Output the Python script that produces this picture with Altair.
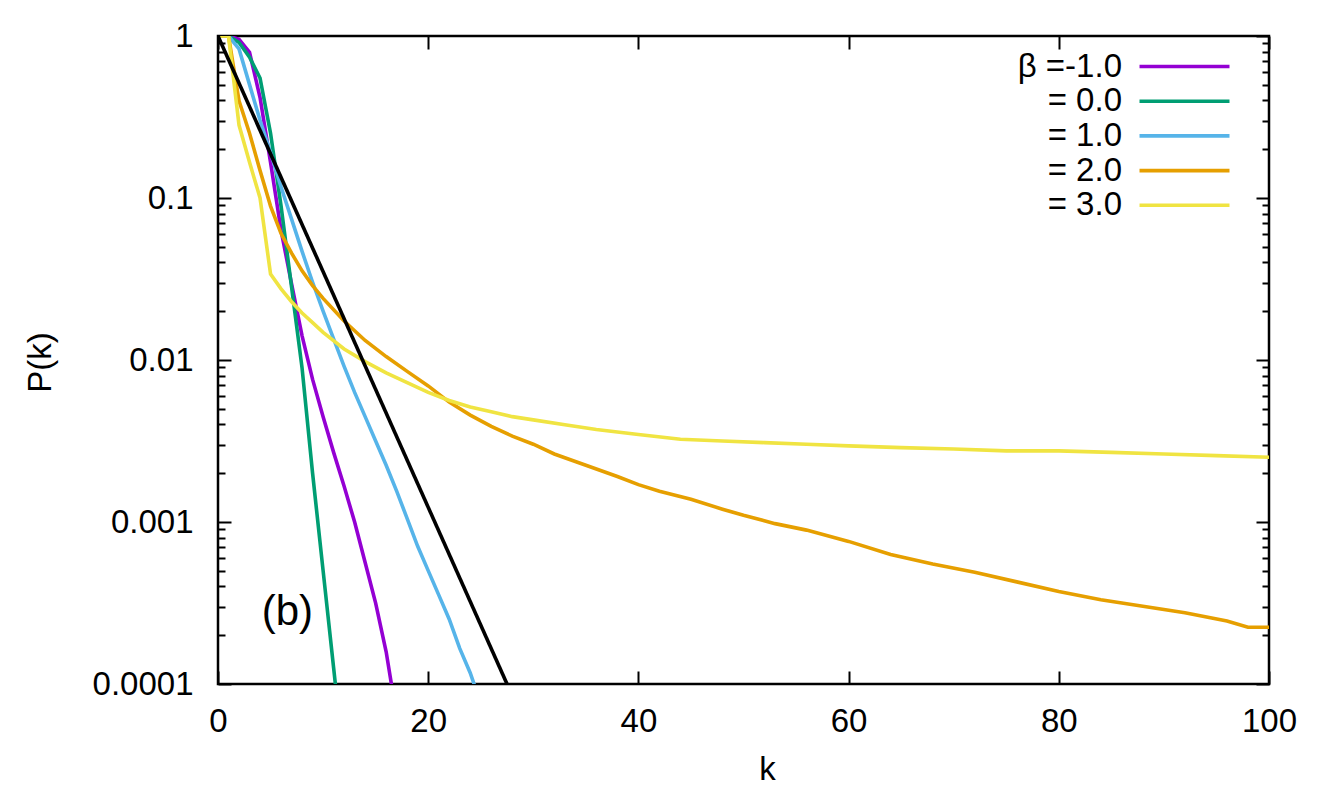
import altair as alt
import pandas as pd

# ---- data ----
labels = ["β =-1.0", "= 0.0", "= 1.0", "= 2.0", "= 3.0"]
colors = ["#9400d3", "#009e73", "#56b4e9", "#e69f00", "#f0e442"]

k_m1 = [0, 1, 2, 3, 4, 5, 6, 7, 8, 9, 10, 11, 12, 13, 14, 15, 16, 17]
p_m1 = [1, 1, 0.955, 0.794, 0.417, 0.166, 0.0631, 0.0295, 0.0141, 0.00759,
        0.00447, 0.00269, 0.00166, 0.001, 0.000562, 0.000316, 0.000158, 0.0000631]

k_0 = [0, 1, 2, 3, 4, 5, 6, 7, 8, 9, 10, 11, 12]
p_0 = [1, 1, 0.912, 0.741, 0.550, 0.251, 0.0891, 0.0282, 0.00891, 0.00200,
       0.000501, 0.000126, 0.0000316]

k_1 = list(range(0, 26))
p_1 = [1, 1, 0.832, 0.501, 0.302, 0.191, 0.117, 0.0741, 0.0468, 0.0302, 0.0200,
       0.0135, 0.00912, 0.00631, 0.00447, 0.00316, 0.00224, 0.00155, 0.00105,
       0.000708, 0.000501, 0.000355, 0.000251, 0.000166, 0.000117, 0.0000759]

k_2 = [0, 1, 2, 3, 4, 5, 6, 7, 8, 9, 10, 12, 14, 16, 18, 20, 22, 24, 26, 28, 30,
       32, 35, 38, 40, 42, 45, 48, 50, 53, 56, 60, 64, 68, 72, 76, 80, 84, 88,
       92, 96, 98, 100]
p_2 = [1, 1, 0.398, 0.251, 0.148, 0.0891, 0.0603, 0.0457, 0.0355, 0.0288, 0.0240,
       0.0174, 0.0132, 0.0105, 0.00851, 0.00692, 0.00550, 0.00457, 0.00389,
       0.00339, 0.00302, 0.00263, 0.00224, 0.00191, 0.00170, 0.00155, 0.00138,
       0.00120, 0.00110, 0.000977, 0.000891, 0.000759, 0.000631, 0.000550,
       0.000490, 0.000427, 0.000372, 0.000331, 0.000302, 0.000275, 0.000245,
       0.000224, 0.000224]

k_3 = [0, 1, 2, 3, 4, 5, 6, 7, 8, 9, 10, 12, 14, 16, 18, 20, 22, 24, 26, 28, 30,
       33, 36, 40, 44, 48, 52, 56, 60, 65, 70, 75, 80, 85, 90, 95, 100]
p_3 = [1, 1, 0.282, 0.166, 0.1, 0.0339, 0.0275, 0.0229, 0.0195, 0.0170, 0.0148,
       0.0117, 0.00977, 0.00832, 0.00724, 0.00631, 0.00562, 0.00513, 0.00479,
       0.00447, 0.00427, 0.00398, 0.00372, 0.00347, 0.00324, 0.00316, 0.00309,
       0.00302, 0.00295, 0.00288, 0.00282, 0.00275, 0.00275, 0.00269, 0.00263,
       0.00257, 0.00251]

k_ref = [0, 27.5]
p_ref = [1, 0.0001]

x_ticks = [0, 20, 40, 60, 80, 100]
y_ticks = [1, 0.1, 0.01, 0.001, 0.0001]
y_minor = [m * 10.0 ** e for e in (-4, -3, -2, -1) for m in range(2, 10)]

note_text = ["(b)"]
note_k = [6.6]
note_p = [0.000278]

# ---- tables ----
rows = []
for lab, ks, ps in zip(labels, [k_m1, k_0, k_1, k_2, k_3], [p_m1, p_0, p_1, p_2, p_3]):
    for kk, pp in zip(ks, ps):
        rows.append({"k": kk, "P": pp, "beta": lab})
df = pd.DataFrame(rows)
df_ref = pd.DataFrame({"k": k_ref, "P": p_ref})
df_note = pd.DataFrame({"k": note_k, "P": note_p, "t": note_text})

FONT = "Liberation Sans"
FS = 33
LW = 3.6

xscale = alt.Scale(domain=[0, 100], nice=False, zero=False)
yscale = alt.Scale(type="log", domain=[0.0001, 1], nice=False)

common_ax = dict(domain=False, grid=False, tickColor="black", tickWidth=2,
                 labelFlush=False, labelOverlap=False)

lines = alt.Chart(df).mark_line(strokeWidth=LW, clip=True).encode(
    x=alt.X("k:Q", scale=xscale, axis=alt.Axis(
        orient="bottom", values=x_ticks, tickSize=13, offset=-13, format="d",
        labelFontSize=FS, labelFont=FONT, labelColor="black", labelPadding=21,
        title="k", titleFontSize=FS, titleFont=FONT, titleFontWeight="normal",
        titleColor="black", titleX=549, titleY=108, titleBaseline="alphabetic",
        titleAlign="center", **common_ax)),
    y=alt.Y("P:Q", scale=yscale, axis=alt.Axis(
        orient="left", values=y_ticks, tickSize=13, offset=-13, format="~g",
        labelFontSize=FS, labelFont=FONT, labelColor="black", labelPadding=25,
        title="P(k)", titleFontSize=FS, titleFont=FONT, titleFontWeight="normal",
        titleColor="black", titleX=-191, titleY=326, titleAngle=270,
        titleBaseline="middle", titleAlign="center", **common_ax)),
    color=alt.Color("beta:N", scale=alt.Scale(domain=labels, range=colors),
                    sort=labels, title=None,
                    legend=alt.Legend(orient="none", legendX=950, legendY=14,
                                      symbolType="M-4,0H4", symbolSize=506,
                                      symbolStrokeWidth=LW, labelAlign="right",
                                      labelOffset={"expr": "-79"}, labelFontSize=FS,
                                      labelFont=FONT, labelColor="black",
                                      rowPadding=0.7, padding=0,
                                      offset=0, labelLimit=400)),
    detail="beta:N",
)

ref = alt.Chart(df_ref).mark_line(strokeWidth=LW, color="black", clip=True).encode(
    x=alt.X("k:Q", scale=xscale, axis=alt.Axis(
        orient="top", values=x_ticks, tickSize=13, offset=-13, labels=False,
        title=None, **common_ax)),
    y=alt.Y("P:Q", scale=yscale, axis=alt.Axis(
        orient="right", values=y_ticks, tickSize=13, offset=-13, labels=False,
        title=None, **common_ax)),
)

minor_left = alt.Chart(df_ref).mark_line(opacity=0).encode(
    x=alt.X("k:Q", scale=xscale, axis=None),
    y=alt.Y("P:Q", scale=yscale, axis=alt.Axis(
        orient="left", values=y_minor, tickSize=7, offset=-7, labels=False,
        title=None, **common_ax)),
)

minor_right = alt.Chart(df_ref).mark_line(opacity=0).encode(
    x=alt.X("k:Q", scale=xscale, axis=None),
    y=alt.Y("P:Q", scale=yscale, axis=alt.Axis(
        orient="right", values=y_minor, tickSize=7, offset=-7, labels=False,
        title=None, **common_ax)),
)

note = alt.Chart(df_note).mark_text(fontSize=42, font=FONT, color="black",
                                    align="center", baseline="middle").encode(
    x=alt.X("k:Q", scale=xscale, axis=None),
    y=alt.Y("P:Q", scale=yscale, axis=None),
    text="t:N",
)

chart = alt.layer(lines, ref, minor_left, minor_right, note).resolve_axis(
    x="independent", y="independent"
).properties(
    width=1051, height=648,
    autosize=alt.AutoSizeParams(type="none"),
    padding={"left": 210, "top": 28, "right": 50, "bottom": 110},
    background="white",
).configure_view(stroke="black", strokeWidth=2.5)

chart.save("out.html", embed_options={"renderer": "svg", "actions": False})
